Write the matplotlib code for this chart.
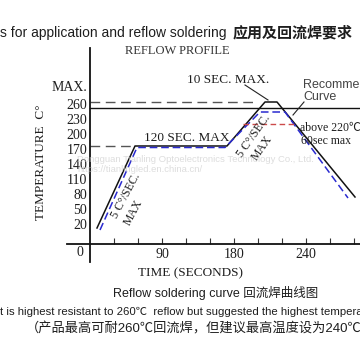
import matplotlib
matplotlib.use("Agg")
import matplotlib.pyplot as plt
from matplotlib.ticker import FixedLocator, FixedFormatter

# ---- data ----
black_t = [8.75, 56.25, 171.25, 218.75, 233.75, 331.25]
black_T = [12, 176, 176, 264, 264, 74]
blue_t = [12.5, 58.75, 168.75, 212.5, 243.75, 322.5]
blue_T = [8, 173, 173, 244, 244, 72]
red_t = [191.25, 258.75]
red_T = [220, 220]
ytick_vals = [20, 50, 80, 110, 140, 170, 200, 230, 260, 296]
ytick_labels = ["20", "50", "80", "110", "140", "170", "200", "230", "260", "MAX."]
xtick_vals = [30, 60, 90, 120, 150, 180, 210, 240, 270, 300, 330]
xtick_labels = ["", "", "90", "", "", "180", "", "", "240", "", ""]

SERIF = ["Liberation Serif", "Noto Sans CJK SC", "DejaVu Serif"]
SANS = ["Liberation Sans", "Noto Sans CJK SC", "DejaVu Sans"]
plt.rcParams["font.family"] = SERIF
TXT = "#1e1e1e"

fig = plt.figure(figsize=(3.6, 3.6), dpi=100)
ax = fig.add_axes([0, 0, 1, 1])
ax.set_xlim(-112.5, 337.5)
ax.set_ylim(-252, 468)
ax.patch.set_alpha(0)


def P(x, y):
    """pixel -> data coordinates"""
    return (x - 90) / 0.8, 260 - (y - 104) * 2


for s in ("top", "right"):
    ax.spines[s].set_visible(False)
ax.spines["left"].set_position(("data", 0))
ax.spines["left"].set_bounds(-56, 372)
ax.spines["bottom"].set_position(("data", -20))
ax.spines["bottom"].set_bounds(-28.75, 337.5)
for s in ("left", "bottom"):
    ax.spines[s].set_linewidth(1.3)
    ax.spines[s].set_color("#111111")

ax.yaxis.set_major_locator(FixedLocator(ytick_vals))
ax.yaxis.set_major_formatter(FixedFormatter(ytick_labels))
ax.tick_params(axis="y", length=0, pad=2, labelsize=10, labelcolor=TXT)
ax.xaxis.set_major_locator(FixedLocator(xtick_vals))
ax.xaxis.set_major_formatter(FixedFormatter(xtick_labels))
ax.tick_params(axis="x", direction="in", length=4, width=0.8, pad=3,
               labelsize=10, labelcolor=TXT, color="#333333")

# reference lines
ax.plot([0, 206], [264, 264], color="#555555", lw=1.0, ls=(0, (7, 4)))
ax.plot([0, 56], [176, 176], color="#555555", lw=1.0, ls=(0, (7, 4)))
ax.plot([0, 337.5], [252, 252], color="#111111", lw=1.0)

# profiles
ax.plot(black_t, black_T, color="#111111", lw=1.1)
ax.plot(blue_t, blue_T, color="#2a2ad0", lw=1.1, ls=(0, (5, 2.5)))
ax.plot(red_t, red_T, color="#cc4a4a", lw=1.0, ls=(0, (4, 2.5)))

# leader lines
a, b = P(245, 85), P(268, 100)
ax.plot([a[0], b[0]], [a[1], b[1]], color="#222222", lw=0.8)
a, b = P(304, 102), P(293, 115)
ax.plot([a[0], b[0]], [a[1], b[1]], color="#222222", lw=0.8)

# annotations
ax.text(*P(80, 253), "0", ha="center", va="center", fontsize=10, color=TXT)
ax.text(*P(228, 80), "10 SEC. MAX.", ha="center", va="center", fontsize=9.5, color=TXT)
ax.text(*P(187, 138), "120 SEC. MAX", ha="center", va="center", fontsize=9.5, color=TXT)
ax.text(*P(300, 128), "above 220\u2103", ha="left", va="center", fontsize=8.5, color=TXT)
ax.text(*P(301, 141), "60sec max", ha="left", va="center", fontsize=8.5, color=TXT)
ax.text(*P(303, 91), "Recommended\nCurve", ha="left", va="center", fontsize=9,
        color="#444444", family=SANS, linespacing=1.0)
ax.text(*P(126, 196), "5 C\u00b0/SEC.", rotation=62, ha="center", va="center",
        fontsize=8.5, color=TXT, rotation_mode="anchor")
ax.text(*P(133, 212), "MAX", rotation=62, ha="center", va="center",
        fontsize=8.5, color=TXT, rotation_mode="anchor")
ax.text(*P(254, 136), "5 C\u00b0/SEC.", rotation=55, ha="center", va="center",
        fontsize=8.5, color=TXT, rotation_mode="anchor")
ax.text(*P(262, 148), "MAX", rotation=55, ha="center", va="center",
        fontsize=8.5, color=TXT, rotation_mode="anchor")

# watermark
ax.text(*P(77, 160), "Dongguan Tianling Optoelectronics Technology Co., Ltd.",
        ha="left", va="center", fontsize=6.8, color="#cfcfcf", family=SANS, alpha=0.7)
ax.text(*P(77, 169), "https://tianlingled.en.china.cn/",
        ha="left", va="center", fontsize=6.8, color="#cfcfcf", family=SANS, alpha=0.7)


def F(x, y, s, **kw):
    fig.text(x / 360, 1 - y / 360, s, **kw)


F(0, 33, "s for application and reflow soldering",
  ha="left", va="center", fontsize=10, family=SANS, color=TXT)
F(233, 33, "\u5e94\u7528\u53ca\u56de\u6d41\u710a\u8981\u6c42",
  ha="left", va="center", fontsize=10.8, family=SANS, color=TXT, weight="bold")
F(177, 51, "REFLOW PROFILE", ha="center", va="center", fontsize=9, color="#333333")
F(41, 162, "TEMPERATURE  C\u00b0", ha="center", va="center", rotation=90,
  fontsize=9.5, color=TXT)
F(190, 273, "TIME (SECONDS)", ha="center", va="center", fontsize=9.5, color=TXT)
F(216, 293, "Reflow soldering curve \u56de\u6d41\u710a\u66f2\u7ebf\u56fe", ha="center",
  va="center", fontsize=9, family=SANS, color=TXT)
F(0, 312, "t is highest resistant to 260\u2103  reflow but suggested the highest temperature",
  ha="left", va="center", fontsize=8.2, family=SANS, color=TXT)
F(26, 329, "\uff08\u4ea7\u54c1\u6700\u9ad8\u53ef\u8010260\u2103\u56de\u6d41\u710a\uff0c\u4f46\u5efa\u8bae\u6700\u9ad8\u6e29\u5ea6\u8bbe\u4e3a240\u2103\uff09",
  ha="left", va="center", fontsize=9.5, family=SANS, color=TXT)

fig.savefig("out.png", dpi=100)
